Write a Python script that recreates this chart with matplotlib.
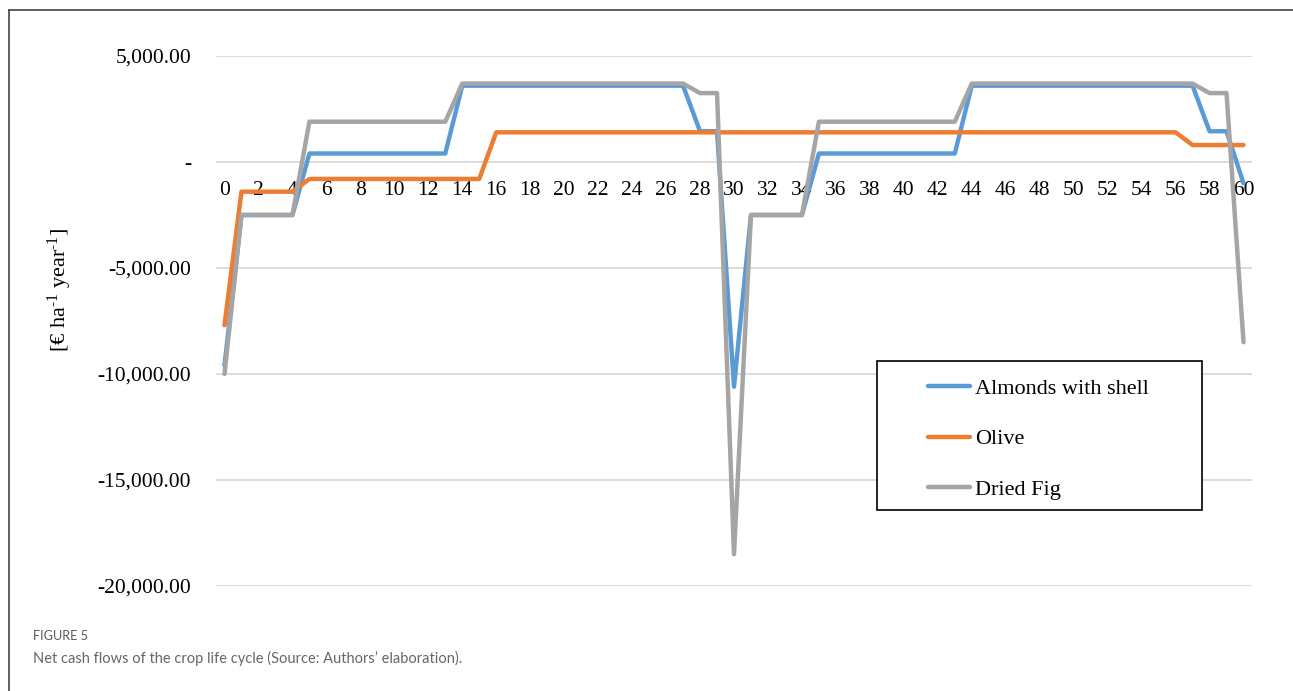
import matplotlib
matplotlib.use('Agg')
import matplotlib.pyplot as plt
from matplotlib.lines import Line2D
from matplotlib.patches import Rectangle
from matplotlib.ticker import FuncFormatter

plt.rcParams['font.family'] = ['Liberation Serif', 'DejaVu Serif']
plt.rcParams['mathtext.fontset'] = 'custom'
plt.rcParams['mathtext.rm'] = 'Liberation Serif'
plt.rcParams['mathtext.it'] = 'Liberation Serif:italic'

# years of the life cycle
years = list(range(61))

# net cash flows, EUR/ha/year
almonds = ([-9600] + [-2500]*4 + [400]*9 + [3600]*14 + [1450]*2 +
           [-10600] + [-2500]*4 + [400]*9 + [3600]*14 + [1450]*2 + [-1000])
olive = [-7700] + [-1400]*4 + [-800]*11 + [1400]*41 + [800]*4
fig_dried = ([-10000] + [-2500]*4 + [1900]*9 + [3700]*14 + [3250]*2 +
             [-18500] + [-2500]*4 + [1900]*9 + [3700]*14 + [3250]*2 + [-8500])

series_names = ['Almonds with shell', 'Olive', 'Dried Fig']
colors = ['#5B9BD5', '#ED7D31', '#A5A5A5']

W, H = 1293, 691
fig = plt.figure(figsize=(W/100, H/100), dpi=100)
ax = fig.add_axes([216/W, 1 - 586/H, 1036/W, 530/H])

for vals, name, c in zip([almonds, olive, fig_dried], series_names, colors):
    ax.plot(years, vals, color=c, lw=3.2, label=name,
            solid_joinstyle='round', solid_capstyle='round')

ax.set_xlim(-0.5, 60.5)
ax.set_ylim(-20000, 5000)
ax.set_yticks(range(-20000, 5001, 5000))
ax.yaxis.set_major_formatter(FuncFormatter(lambda v, p: '-' if v == 0 else f'{v:,.2f}'))
ax.set_xticks(range(0, 61, 2))
ax.grid(axis='y', color='#D9D9D9', lw=1.3)
ax.set_axisbelow(True)

for s in ['top', 'right', 'left']:
    ax.spines[s].set_visible(False)
ax.spines['bottom'].set_position(('data', 0))
ax.spines['bottom'].set_visible(False)
ax.tick_params(axis='both', length=0, labelsize=15.5, colors='#000000')
ax.tick_params(axis='x', pad=14)
ax.tick_params(axis='y', pad=18)

fig.text(0.046, 0.58, '[€ ha$^{\\mathrm{\u20101}}$ year$^{\\mathrm{\u20101}}$]', rotation=90,
         ha='center', va='center', fontsize=16)

# legend entries without frame, box drawn separately
leg = fig.legend(loc='upper left', bbox_to_anchor=(928/W, 1 - 378/H), fontsize=16,
                 frameon=False, handlelength=1.9, handletextpad=0.2, labelspacing=1.36,
                 borderpad=0, borderaxespad=0)
fig.add_artist(Rectangle((877/W, 1 - 510/H), 325/W, 149/H, transform=fig.transFigure,
                         fill=True, facecolor='white', edgecolor='black', lw=1.2, zorder=2))
leg.set_zorder(3)

# figure frame (top and left border) and caption
fig.add_artist(Line2D([9/W, 9/W], [0, 1 - 10/H], color='#444444', lw=1.2))
fig.add_artist(Line2D([9/W, 1], [1 - 10/H, 1 - 10/H], color='#444444', lw=1.2))
fig.text(33/W, 1 - 636/H, 'FIGURE 5', family='Lato', fontsize=9.2,
         color='#5a5a5a', va='center', ha='left')
fig.text(33/W, 1 - 658/H, 'Net cash flows of the crop life cycle (Source: Authors\u2019 elaboration).',
         family='Lato', fontsize=10.5, color='#666666', va='center', ha='left')

fig.savefig('out.png', dpi=100)
